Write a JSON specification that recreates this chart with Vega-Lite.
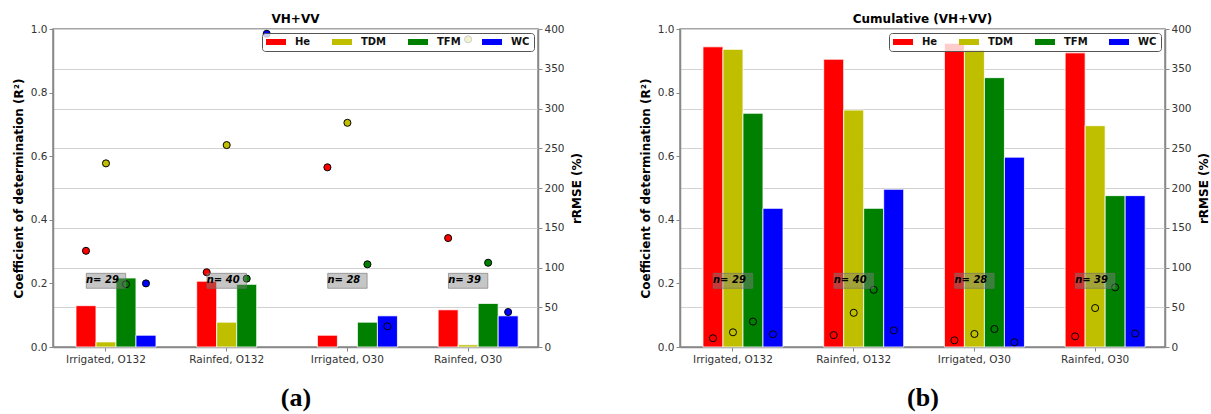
{
  "$schema": "https://vega.github.io/schema/vega-lite/v6.json",
  "background": "white",
  "padding": {"left": 11, "top": 12, "right": 5, "bottom": 0},
  "config": {
    "font": "DejaVu Sans",
    "view": {"stroke": "#888888", "strokeWidth": 1.5},
    "axis": {
      "labelFont": "DejaVu Sans", "labelFontSize": 10.5, "labelColor": "#333333",
      "titleFont": "DejaVu Sans", "titleFontSize": 12, "titleFontWeight": "bold", "titleColor": "#000000",
      "domainColor": "#888888", "domainWidth": 1.5, "tickColor": "#888888", "tickSize": 4, "labelPadding": 2,
      "gridColor": "#d2d2d2", "gridWidth": 1
    },
    "title": {"font": "DejaVu Sans", "fontSize": 12, "fontWeight": "bold", "color": "#000000", "offset": -2}
  },
  "datasets": {
    "a": [
      {"site": "Irrigated, O132", "var": "He", "r2": 0.13, "rrmse": 121},
      {"site": "Irrigated, O132", "var": "TDM", "r2": 0.016, "rrmse": 231},
      {"site": "Irrigated, O132", "var": "TFM", "r2": 0.217, "rrmse": 79},
      {"site": "Irrigated, O132", "var": "WC", "r2": 0.037, "rrmse": 80},
      {"site": "Rainfed, O132", "var": "He", "r2": 0.207, "rrmse": 94},
      {"site": "Rainfed, O132", "var": "TDM", "r2": 0.078, "rrmse": 254},
      {"site": "Rainfed, O132", "var": "TFM", "r2": 0.197, "rrmse": 86},
      {"site": "Rainfed, O132", "var": "WC", "r2": null, "rrmse": 394},
      {"site": "Irrigated, O30", "var": "He", "r2": 0.037, "rrmse": 226},
      {"site": "Irrigated, O30", "var": "TDM", "r2": null, "rrmse": 282},
      {"site": "Irrigated, O30", "var": "TFM", "r2": 0.078, "rrmse": 104},
      {"site": "Irrigated, O30", "var": "WC", "r2": 0.098, "rrmse": 26},
      {"site": "Rainfed, O30", "var": "He", "r2": 0.117, "rrmse": 137},
      {"site": "Rainfed, O30", "var": "TDM", "r2": 0.007, "rrmse": 387},
      {"site": "Rainfed, O30", "var": "TFM", "r2": 0.137, "rrmse": 106},
      {"site": "Rainfed, O30", "var": "WC", "r2": 0.098, "rrmse": 44}
    ],
    "b": [
      {"site": "Irrigated, O132", "var": "He", "r2": 0.944, "rrmse": 11},
      {"site": "Irrigated, O132", "var": "TDM", "r2": 0.936, "rrmse": 18.5},
      {"site": "Irrigated, O132", "var": "TFM", "r2": 0.735, "rrmse": 32},
      {"site": "Irrigated, O132", "var": "WC", "r2": 0.436, "rrmse": 16},
      {"site": "Rainfed, O132", "var": "He", "r2": 0.905, "rrmse": 15},
      {"site": "Rainfed, O132", "var": "TDM", "r2": 0.745, "rrmse": 43},
      {"site": "Rainfed, O132", "var": "TFM", "r2": 0.436, "rrmse": 72},
      {"site": "Rainfed, O132", "var": "WC", "r2": 0.496, "rrmse": 21},
      {"site": "Irrigated, O30", "var": "He", "r2": 0.955, "rrmse": 8.4},
      {"site": "Irrigated, O30", "var": "TDM", "r2": 0.936, "rrmse": 16.4},
      {"site": "Irrigated, O30", "var": "TFM", "r2": 0.847, "rrmse": 22.6},
      {"site": "Irrigated, O30", "var": "WC", "r2": 0.597, "rrmse": 6},
      {"site": "Rainfed, O30", "var": "He", "r2": 0.925, "rrmse": 13.4},
      {"site": "Rainfed, O30", "var": "TDM", "r2": 0.696, "rrmse": 49},
      {"site": "Rainfed, O30", "var": "TFM", "r2": 0.476, "rrmse": 75},
      {"site": "Rainfed, O30", "var": "WC", "r2": 0.476, "rrmse": 17}
    ],
    "n": [
      {"site": "Irrigated, O132", "label": "n= 29"},
      {"site": "Rainfed, O132", "label": "n= 40"},
      {"site": "Irrigated, O30", "label": "n= 28"},
      {"site": "Rainfed, O30", "label": "n= 39"}
    ]
  },
  "spacing": 55,
  "resolve": {"scale": {"color": "independent", "fill": "independent"}, "legend": {"color": "independent"}},
  "hconcat": [
    {
      "width": 485, "height": 318,
      "title": {"text": "VH+VV"},
      "encoding": {
        "x": {"field": "site", "type": "nominal", "sort": null,
          "scale": {"domain": ["Irrigated, O132", "Rainfed, O132", "Irrigated, O30", "Rainfed, O30"], "paddingInner": 0.1715, "paddingOuter": 0.0945, "align": 0.13, "round": false},
          "axis": {"title": "(a)", "titleFont": "Liberation Serif", "titleFontSize": 26, "titleFontWeight": "bold", "titlePadding": 20, "labelAngle": 0, "labelPadding": 3, "grid": false}}
      },
      "layer": [
        {
          "data": {"name": "a"},
          "mark": {"type": "bar", "stroke": "white", "strokeWidth": 0.8},
          "encoding": {
            "xOffset": {"field": "var", "type": "nominal", "scale": {"domain": ["_pad", "He", "TDM", "TFM", "WC"], "paddingInner": 0, "paddingOuter": 0}},
            "y": {"field": "r2", "type": "quantitative", "scale": {"domain": [0, 1], "nice": false},
              "axis": {"title": "Coefficient of determination (R²)", "values": [0, 0.2, 0.4, 0.6, 0.8, 1.0], "format": ".1f", "grid": false, "titlePadding": 5}},
            "color": {"field": "var", "type": "nominal",
              "scale": {"domain": ["He", "TDM", "TFM", "WC"], "range": ["#ff0000", "#bfbf00", "#008000", "#0000ff"]},
              "legend": {"title": null, "orient": "top-right", "direction": "horizontal", "columns": 4, "gridAlign": "each",
                "symbolType": "M-1,-0.6H3V0.6H-1Z", "symbolSize": 100, "symbolStrokeWidth": 0,
                "labelFont": "DejaVu Sans", "labelFontSize": 10, "labelFontWeight": "bold", "labelColor": "#111111",
                "labelOffset": 19, "columnPadding": 21, "padding": 4, "strokeColor": "#555555",
                "fillColor": "rgba(255,255,255,0.8)", "cornerRadius": 3, "offset": 4}}
          }
        },
        {
          "data": {"name": "a"},
          "mark": {"type": "point", "shape": "circle", "filled": true, "size": 50, "stroke": "black", "strokeWidth": 1, "opacity": 1},
          "encoding": {
            "xOffset": {"field": "var", "type": "nominal"},
            "y": {"field": "rrmse", "type": "quantitative", "scale": {"domain": [0, 400], "nice": false},
              "axis": {"orient": "right", "title": "rRMSE (%)", "titleAngle": 270, "values": [0, 50, 100, 150, 200, 250, 300, 350, 400], "grid": true, "titlePadding": 19}},
            "fill": {"field": "var", "type": "nominal",
              "scale": {"domain": ["He", "TDM", "TFM", "WC"], "range": ["#ff0000", "#bfbf00", "#008000", "#0000ff"]}, "legend": null}
          }
        },
        {
          "data": {"name": "n"},
          "mark": {"type": "point", "shape": "M-1,-0.38H1V0.38H-1Z", "size": 1552, "filled": true, "fill": "#808080", "fillOpacity": 0.45, "stroke": "#707070", "strokeWidth": 1, "strokeOpacity": 0.6, "opacity": 1, "yOffset": -2.6},
          "encoding": {
            "xOffset": {"datum": "TDM", "type": "nominal"},
            "y": {"datum": 0.2, "type": "quantitative", "scale": {"domain": [0, 1], "nice": false}, "axis": null}
          }
        },
        {
          "data": {"name": "n"},
          "mark": {"type": "text", "align": "left", "baseline": "alphabetic", "font": "DejaVu Sans", "fontSize": 10, "fontWeight": "bold", "fontStyle": "italic", "color": "#000000"},
          "encoding": {
            "xOffset": {"datum": "He", "type": "nominal"},
            "y": {"datum": 0.2, "type": "quantitative", "scale": {"domain": [0, 1], "nice": false}, "axis": null},
            "text": {"field": "label", "type": "nominal"}
          }
        }
      ],
      "resolve": {"scale": {"y": "independent"}}
    },
    {
      "width": 485, "height": 318,
      "title": {"text": "Cumulative (VH+VV)"},
      "encoding": {
        "x": {"field": "site", "type": "nominal", "sort": null,
          "scale": {"domain": ["Irrigated, O132", "Rainfed, O132", "Irrigated, O30", "Rainfed, O30"], "paddingInner": 0.1715, "paddingOuter": 0.0945, "align": 0.13, "round": false},
          "axis": {"title": "(b)", "titleFont": "Liberation Serif", "titleFontSize": 26, "titleFontWeight": "bold", "titlePadding": 20, "labelAngle": 0, "labelPadding": 3, "grid": false}}
      },
      "layer": [
        {
          "data": {"name": "b"},
          "mark": {"type": "bar", "stroke": "white", "strokeWidth": 0.8},
          "encoding": {
            "xOffset": {"field": "var", "type": "nominal", "scale": {"domain": ["_pad", "He", "TDM", "TFM", "WC"], "paddingInner": 0, "paddingOuter": 0}},
            "y": {"field": "r2", "type": "quantitative", "scale": {"domain": [0, 1], "nice": false},
              "axis": {"title": "Coefficient of determination (R²)", "values": [0, 0.2, 0.4, 0.6, 0.8, 1.0], "format": ".1f", "grid": false, "titlePadding": 5}},
            "color": {"field": "var", "type": "nominal",
              "scale": {"domain": ["He", "TDM", "TFM", "WC"], "range": ["#ff0000", "#bfbf00", "#008000", "#0000ff"]},
              "legend": {"title": null, "orient": "top-right", "direction": "horizontal", "columns": 4, "gridAlign": "each",
                "symbolType": "M-1,-0.6H3V0.6H-1Z", "symbolSize": 100, "symbolStrokeWidth": 0,
                "labelFont": "DejaVu Sans", "labelFontSize": 10, "labelFontWeight": "bold", "labelColor": "#111111",
                "labelOffset": 19, "columnPadding": 21, "padding": 4, "strokeColor": "#555555",
                "fillColor": "rgba(255,255,255,0.8)", "cornerRadius": 3, "offset": 4}}
          }
        },
        {
          "data": {"name": "b"},
          "mark": {"type": "point", "shape": "circle", "filled": true, "size": 50, "stroke": "black", "strokeWidth": 1, "opacity": 1},
          "encoding": {
            "xOffset": {"field": "var", "type": "nominal"},
            "y": {"field": "rrmse", "type": "quantitative", "scale": {"domain": [0, 400], "nice": false},
              "axis": {"orient": "right", "title": "rRMSE (%)", "titleAngle": 270, "values": [0, 50, 100, 150, 200, 250, 300, 350, 400], "grid": true, "titlePadding": 19}},
            "fill": {"field": "var", "type": "nominal",
              "scale": {"domain": ["He", "TDM", "TFM", "WC"], "range": ["#ff0000", "#bfbf00", "#008000", "#0000ff"]}, "legend": null}
          }
        },
        {
          "data": {"name": "n"},
          "mark": {"type": "point", "shape": "M-1,-0.38H1V0.38H-1Z", "size": 1552, "filled": true, "fill": "#808080", "fillOpacity": 0.45, "stroke": "#707070", "strokeWidth": 1, "strokeOpacity": 0.6, "opacity": 1, "yOffset": -2.6},
          "encoding": {
            "xOffset": {"datum": "TDM", "type": "nominal"},
            "y": {"datum": 0.2, "type": "quantitative", "scale": {"domain": [0, 1], "nice": false}, "axis": null}
          }
        },
        {
          "data": {"name": "n"},
          "mark": {"type": "text", "align": "left", "baseline": "alphabetic", "font": "DejaVu Sans", "fontSize": 10, "fontWeight": "bold", "fontStyle": "italic", "color": "#000000"},
          "encoding": {
            "xOffset": {"datum": "He", "type": "nominal"},
            "y": {"datum": 0.2, "type": "quantitative", "scale": {"domain": [0, 1], "nice": false}, "axis": null},
            "text": {"field": "label", "type": "nominal"}
          }
        }
      ],
      "resolve": {"scale": {"y": "independent"}}
    }
  ]
}
